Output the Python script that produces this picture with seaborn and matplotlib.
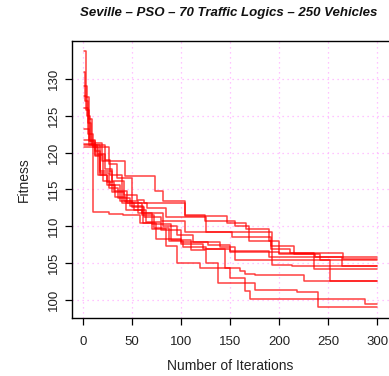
import numpy as np
import pandas as pd
import matplotlib
matplotlib.use("Agg")
import matplotlib.pyplot as plt
import seaborn as sns

# change points of each run: iterations and fitness values (step functions)
run_a_it = [1, 3, 6, 9, 14, 22, 30, 42, 55, 62, 104, 124, 155, 169, 192, 211, 236]
run_a_fx = [133.7, 127.5, 124.5, 121.0, 119.8, 117.8, 116.2, 114.3, 113.6, 113.2, 111.6, 110.7, 110.0, 108.0, 106.9, 106.4, 104.3]
run_b_it = [1, 2, 5, 8, 12, 20, 28, 38, 50, 62, 80, 104, 193, 213]
run_b_fx = [130.9, 127.0, 124.0, 121.2, 119.6, 116.2, 115.6, 113.5, 112.6, 111.3, 110.7, 109.2, 104.8, 104.7]
run_c_it = [1, 4, 7, 12, 17, 27, 36, 48, 61, 75, 100, 128, 150, 200, 265]
run_c_fx = [129.0, 125.0, 121.5, 120.2, 117.2, 115.2, 113.8, 112.8, 110.5, 108.3, 107.9, 107.5, 106.6, 106.4, 105.6]
run_d_it = [1, 3, 6, 10, 22, 27, 35, 50, 65, 85, 126, 152, 192, 215, 237]
run_d_fx = [127.7, 125.8, 121.5, 120.8, 120.7, 118.5, 116.5, 113.2, 112.5, 111.3, 109.3, 108.6, 107.4, 106.3, 105.9]
run_e_it = [1, 5, 10, 19, 43, 73, 82, 104, 147, 166, 190, 200, 242]
run_e_fx = [126.0, 122.5, 121.3, 118.8, 116.8, 114.8, 113.4, 111.4, 110.5, 109.6, 108.0, 106.2, 105.5]
run_f_it = [1, 6, 12, 17, 24, 33, 44, 60, 82, 96, 112, 140, 155, 252]
run_f_fx = [123.2, 121.0, 119.5, 117.0, 115.6, 114.0, 112.2, 111.8, 110.0, 108.9, 107.9, 107.2, 105.5, 102.6]
run_g_it = [1, 12, 22, 28, 40, 52, 64, 80, 100, 122, 145, 160, 165, 175, 225]
run_g_fx = [121.7, 121.0, 119.0, 117.0, 113.2, 112.2, 110.6, 109.5, 107.6, 106.9, 104.4, 103.9, 103.6, 103.4, 102.6]
run_h_it = [1, 10, 27, 41, 58, 70, 85, 96, 119, 150, 165, 170, 288]
run_h_fx = [121.2, 112.0, 111.7, 111.5, 110.5, 109.6, 107.3, 105.1, 104.4, 103.0, 101.3, 100.2, 99.45]
run_i_it = [1, 17, 30, 42, 56, 70, 90, 110, 126, 138, 175, 218, 240]
run_i_fx = [121.0, 117.5, 114.7, 113.4, 111.8, 110.3, 108.2, 106.8, 105.0, 102.4, 101.4, 101.1, 99.05]
run_j_it = [1, 15, 24, 32, 45, 60, 72, 88, 102, 125, 150, 190, 264]
run_j_fx = [120.8, 117.0, 116.0, 114.8, 113.2, 111.6, 109.8, 108.0, 107.2, 107.0, 106.7, 105.8, 104.6]

last_iteration = 300

runs = {
    "A": (run_a_it, run_a_fx), "B": (run_b_it, run_b_fx), "C": (run_c_it, run_c_fx),
    "D": (run_d_it, run_d_fx), "E": (run_e_it, run_e_fx), "F": (run_f_it, run_f_fx),
    "G": (run_g_it, run_g_fx), "H": (run_h_it, run_h_fx), "I": (run_i_it, run_i_fx),
    "J": (run_j_it, run_j_fx),
}

rows = []
for name, (its, fxs) in runs.items():
    for it, fx in zip(its, fxs):
        rows.append((name, it, fx))
    rows.append((name, last_iteration, fxs[-1]))
df = pd.DataFrame(rows, columns=["run", "iteration", "fitness"])

sns.set_theme(style="white")
plt.rcParams["font.family"] = ["Liberation Sans", "DejaVu Sans"]

W, H = 389, 376
fig = plt.figure(figsize=(W / 100, H / 100), dpi=100)
left, right, top, bottom = 72, 389, 41, 318
ax = fig.add_axes([left / W, (H - bottom) / H, (right - left) / W, (bottom - top) / H])

sns.lineplot(data=df, x="iteration", y="fitness", units="run", estimator=None,
             drawstyle="steps-post", color="red", alpha=0.75, linewidth=1.1,
             legend=False, ax=ax)

ax.set_xlim(-11.2, 312.2)
ax.set_ylim(97.6, 135.1)
xt = [0, 50, 100, 150, 200, 250, 300]
yt = [100, 105, 110, 115, 120, 125, 130]
ax.set_xticks(xt)
ax.set_yticks(yt)
for v in xt:
    ax.axvline(v, color="#ffb0ff", linestyle=(0, (1, 3)), linewidth=0.9, zorder=0)
for v in yt:
    ax.axhline(v, color="#ffb0ff", linestyle=(0, (1, 3)), linewidth=0.9, zorder=0)

for s in ["left", "bottom", "top"]:
    ax.spines[s].set_visible(True)
    ax.spines[s].set_color("black")
    ax.spines[s].set_linewidth(1.0)
ax.spines["right"].set_visible(False)

ax.tick_params(axis="both", which="both", direction="out", length=5, width=0.9,
               color="black", labelsize=9.5, labelcolor="#222222",
               bottom=True, left=True)
ax.tick_params(axis="x", pad=8)
ax.tick_params(axis="y", pad=4)
for lbl in ax.get_yticklabels():
    lbl.set_rotation(90)
    lbl.set_va("center")

ax.set_xlabel("Number of Iterations", fontsize=10, color="#222222", labelpad=8)
ax.set_ylabel("Fitness", fontsize=10, color="#222222", labelpad=12)

fig.text(229 / W, 1 - 13 / H, "Seville \u2013 PSO \u2013 70 Traffic Logics \u2013 250 Vehicles",
         ha="center", va="center", fontsize=9.5, fontweight="bold", fontstyle="italic",
         color="#111111")

fig.savefig("out.png", dpi=100)
